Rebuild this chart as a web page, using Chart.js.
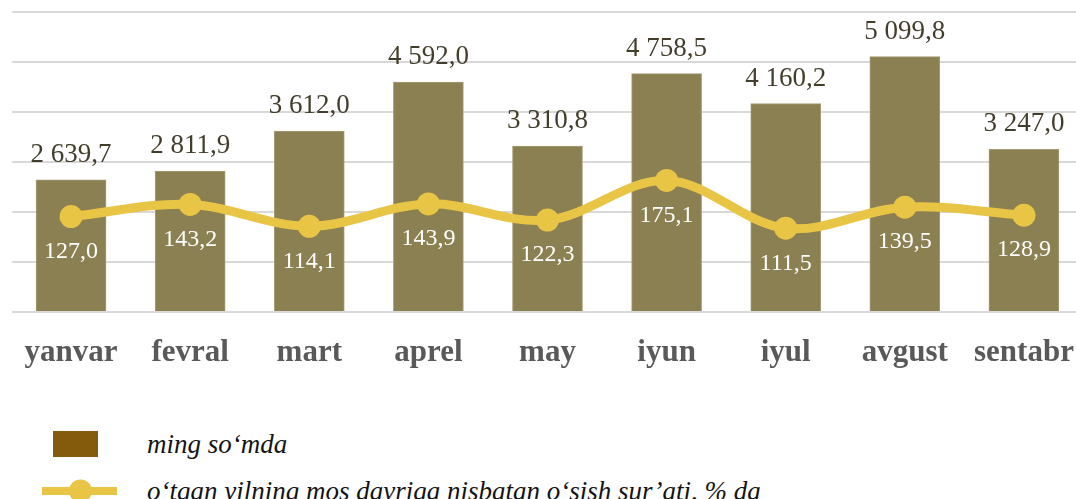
<!DOCTYPE html>
<html>
<head>
<meta charset="utf-8">
<script src="https://cdn.jsdelivr.net/npm/chart.js@4.4.1/dist/chart.umd.min.js"></script>
<style>
    body { margin: 0; width: 1076px; height: 499px; overflow: hidden; background: #fff; position: relative; }
    #wrap { position: absolute; left: 0; top: 0; }
    .legend-item { position: absolute; left: 0; font: italic 27px "Liberation Serif", "Times New Roman", serif; color: #141414; }
    .legend-text { position: absolute; left: 147px; white-space: nowrap; transform: translateY(-50%); }
    .swatch-box { position: absolute; left: 53px; width: 45px; height: 26px; transform: translateY(-50%); }
    .swatch-line { position: absolute; left: 42px; width: 75px; height: 8px; transform: translateY(-50%); }
    .swatch-dot { position: absolute; left: 69px; width: 23px; height: 23px; border-radius: 50%; transform: translateY(-50%); }
</style>
</head>
<body>
<div id="wrap"><canvas id="salesChart" width="1095" height="380"></canvas></div>
<div id="legend"></div>

<script>
// --- Data ---
const months = ['yanvar', 'fevral', 'mart', 'aprel', 'may', 'iyun', 'iyul', 'avgust', 'sentabr'];
const amounts = [2639.7, 2811.9, 3612.0, 4592.0, 3310.8, 4758.5, 4160.2, 5099.8, 3247.0];
const growthRates = [127.0, 143.2, 114.1, 143.9, 122.3, 175.1, 111.5, 139.5, 128.9];
const amountLabel = 'ming so‘mda';
const growthLabel = 'o‘tgan yilning mos davriga nisbatan o‘sish sur’ati, % da';

const BAR_COLOR = '#8b8052';
const LEGEND_BAR_COLOR = '#845b0c';
const LINE_COLOR = '#e9c546';

// 2639.7 -> "2 639,7"
function formatNum(v) {
    const parts = v.toFixed(1).split('.');
    const intPart = parts[0].replace(/\B(?=(\d{3})+(?!\d))/g, ' ');
    return `${intPart},${parts[1]}`;
}

// --- Value labels drawn on top of the marks ---
const valueLabels = {
    id: 'valueLabels',
    afterDatasetsDraw(chart) {
        const ctx = chart.ctx;
        ctx.save();
        ctx.textAlign = 'center';
        ctx.textBaseline = 'middle';

        const barMeta = chart.getDatasetMeta(1);
        ctx.font = '27px "Liberation Serif", "Times New Roman", serif';
        ctx.fillStyle = '#433e2b';
        barMeta.data.forEach((el, i) => {
            ctx.fillText(formatNum(amounts[i]), el.x, el.y - 25);
        });

        const lineMeta = chart.getDatasetMeta(0);
        ctx.font = '24px "Liberation Serif", "Times New Roman", serif';
        ctx.fillStyle = '#ffffff';
        lineMeta.data.forEach((el, i) => {
            ctx.fillText(formatNum(growthRates[i]), el.x, el.y + 35);
        });
        ctx.restore();
    }
};

const ctx = document.getElementById('salesChart').getContext('2d');
const salesChart = new Chart(ctx, {
    type: 'bar',
    data: {
        labels: months,
        datasets: [
            {
                type: 'line',
                label: growthLabel,
                data: growthRates,
                yAxisID: 'y1',
                borderColor: LINE_COLOR,
                backgroundColor: LINE_COLOR,
                borderWidth: 9,
                pointRadius: 11.5,
                pointBorderWidth: 0,
                pointBackgroundColor: LINE_COLOR,
                tension: 0.35,
                fill: false
            },
            {
                type: 'bar',
                label: amountLabel,
                data: amounts,
                yAxisID: 'y',
                backgroundColor: BAR_COLOR,
                borderColor: '#a59c75',
                borderWidth: 1,
                barThickness: 70
            }
        ]
    },
    options: {
        responsive: false,
        devicePixelRatio: 1,
        animation: false,
        layout: { padding: { left: 7, right: 0, top: 10, bottom: 0 } },
        plugins: {
            legend: { display: false },
            tooltip: { enabled: false }
        },
        scales: {
            x: {
                grid: { display: false },
                border: { display: false },
                ticks: {
                    color: '#595959',
                    padding: 14,
                    font: { family: '"Liberation Serif", "Times New Roman", serif', size: 31, weight: 'bold' }
                },
                afterFit(scale) { scale.height = 68; }
            },
            y: {
                min: 0,
                max: 6000,
                ticks: { display: false, stepSize: 1000 },
                grid: { color: '#d9d9d9', lineWidth: 2, drawTicks: false },
                border: { display: false },
                afterFit(scale) { scale.width = 0; }
            },
            y1: {
                display: false,
                position: 'right',
                min: 0,
                max: 400
            }
        }
    },
    plugins: [valueLabels]
});

// --- HTML legend built from the datasets ---
function renderLegend(chart) {
    const box = document.getElementById('legend');
    const bar = chart.data.datasets[1];
    const line = chart.data.datasets[0];
    box.innerHTML = `
        <div class="legend-item" style="top:444px;">
            <div class="swatch-box" style="background:${LEGEND_BAR_COLOR};"></div>
            <span class="legend-text">${bar.label}</span>
        </div>
        <div class="legend-item" style="top:491px;">
            <div class="swatch-line" style="background:${line.borderColor};"></div>
            <div class="swatch-dot" style="background:${line.borderColor};"></div>
            <span class="legend-text">${line.label}</span>
        </div>
    `;
}
renderLegend(salesChart);
</script>
</body>
</html>
